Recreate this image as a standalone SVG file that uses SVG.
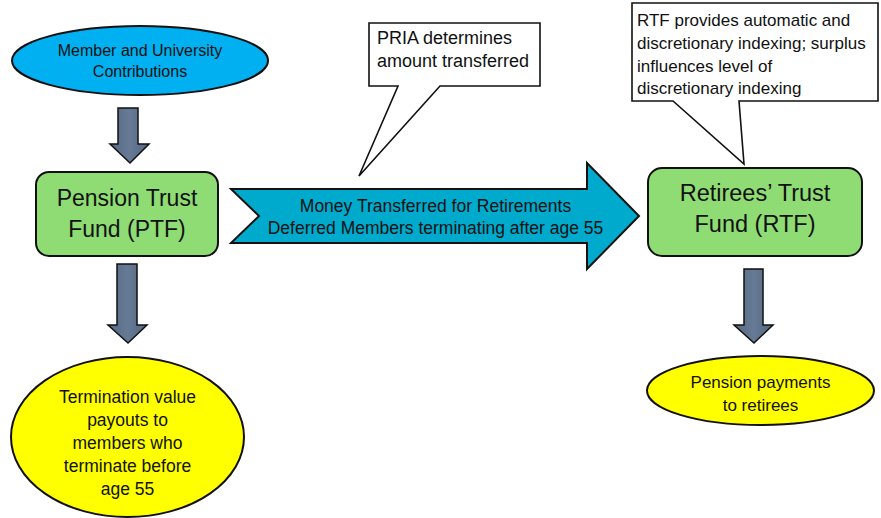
<svg xmlns="http://www.w3.org/2000/svg" width="881" height="518" viewBox="0 0 881 518">
  <defs>
    <linearGradient id="slate" x1="0" y1="0" x2="1" y2="0">
      <stop offset="0" stop-color="#586A84"/>
      <stop offset="0.5" stop-color="#667A95"/>
      <stop offset="1" stop-color="#566882"/>
    </linearGradient>
  </defs>
  <style>
    text { font-family: "Liberation Sans", Arial, sans-serif; fill: #111; }
    .c { text-anchor: middle; }
    .box { fill: #8EDC73; stroke: #111; stroke-width: 2; }
    .blue { fill: #00B0F0; stroke: #111; stroke-width: 2; }
    .yellow { fill: #FFFF00; stroke: #111; stroke-width: 2; }
    .callout { fill: #FFFFFF; stroke: #111; stroke-width: 1.6; stroke-linejoin: miter; }
    .down { fill: url(#slate); stroke: #111; stroke-width: 1.5; stroke-linejoin: miter; }
    .big { fill: #00AACC; stroke: #111; stroke-width: 2; stroke-linejoin: miter; }
  </style>
  <rect width="881" height="518" fill="#FFFFFF"/>

  <g id="connectors">
    <path id="arrow-contrib-ptf" class="down" d="M118,108 H138 V144 H149 L130,163 L110,144 H118 Z"/>
    <path id="arrow-ptf-term" class="down" d="M117,264 H137 V325 H147 L128,343 L108,325 H117 Z"/>
    <path id="arrow-rtf-pay" class="down" d="M744,269 H763 V325 H773 L754,343 L734,325 H744 Z"/>
    <g id="arrow-ptf-rtf">
      <path class="big" d="M231,189 H587 V163 L639,216 L587,269 V243 H231 L259,216 Z"/>
      <text class="c" x="435.5" y="212" font-size="17.5">Money Transferred for Retirements</text>
      <text class="c" x="435.5" y="234" font-size="17.5">Deferred Members terminating after age 55</text>
    </g>
  </g>

  <g id="contributions">
    <ellipse class="blue" cx="140" cy="60.5" rx="128" ry="34.5"/>
    <text class="c" x="140" y="56" font-size="16">Member and University</text>
    <text class="c" x="140" y="77" font-size="16">Contributions</text>
  </g>

  <g id="ptf">
    <rect class="box" x="36" y="172" width="182" height="84" rx="13" ry="13"/>
    <text class="c" x="127" y="206" font-size="23">Pension Trust</text>
    <text class="c" x="127" y="237" font-size="23">Fund (PTF)</text>
  </g>

  <g id="rtf">
    <rect class="box" x="648" y="168" width="214" height="88" rx="14" ry="14"/>
    <text class="c" x="755" y="201" font-size="23.5">Retirees’ Trust</text>
    <text class="c" x="755" y="232" font-size="23.5">Fund (RTF)</text>
  </g>

  <g id="termination">
    <ellipse class="yellow" cx="127.5" cy="437" rx="116.5" ry="80"/>
    <text class="c" x="127.5" y="403" font-size="17.5">Termination value</text>
    <text class="c" x="127.5" y="426" font-size="17.5">payouts to</text>
    <text class="c" x="127.5" y="449" font-size="17.5">members who</text>
    <text class="c" x="127.5" y="472" font-size="17.5">terminate before</text>
    <text class="c" x="127.5" y="495" font-size="17.5">age 55</text>
  </g>

  <g id="payments">
    <ellipse class="yellow" cx="760.5" cy="390.5" rx="113.5" ry="34.5"/>
    <text class="c" x="760.5" y="388" font-size="17">Pension payments</text>
    <text class="c" x="760.5" y="411" font-size="17">to retirees</text>
  </g>

  <g id="callout-pria">
    <path class="callout" d="M369,23 H540 V86 H440 L359,176 L398,86 H369 Z"/>
    <text x="377" y="44" font-size="18">PRIA determines</text>
    <text x="377" y="67" font-size="18">amount transferred</text>
  </g>

  <g id="callout-rtf">
    <path class="callout" d="M632,3 H878 V101 H739 L744,164 L673,101 H632 Z"/>
    <text x="637" y="26" font-size="17">RTF provides automatic and</text>
    <text x="637" y="49" font-size="17">discretionary indexing; surplus</text>
    <text x="637" y="72" font-size="17">influences level of</text>
    <text x="637" y="94" font-size="17">discretionary indexing</text>
  </g>
</svg>
